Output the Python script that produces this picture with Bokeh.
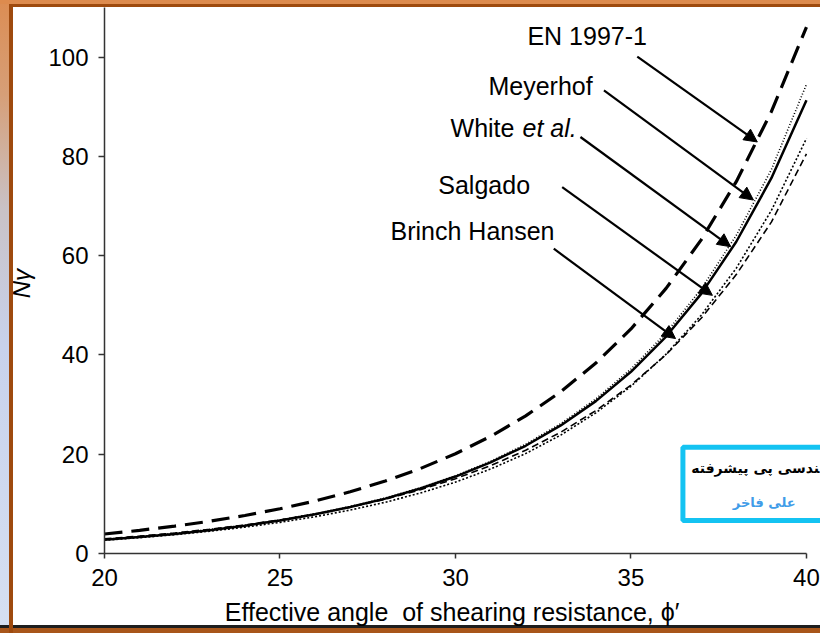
from bokeh.plotting import figure
from bokeh.models import Range1d, Arrow, NormalHead, FixedTicker, Label
from bokeh.core.properties import value
from bokeh.embed import file_html
from bokeh.resources import INLINE

# ---- data ----
phi = [20, 21, 22, 23, 24, 25, 26, 27, 28, 29, 30,
       31, 32, 33, 34, 35, 36, 37, 38, 39, 40]
en_1997 = [3.93, 4.66, 5.51, 6.50, 7.66, 9.01, 10.58, 12.43, 14.59, 17.12, 20.09,
           23.59, 27.72, 32.59, 38.37, 45.23, 53.40, 63.18, 74.90, 89.01, 106.05]
meyerhof = [2.87, 3.42, 4.07, 4.82, 5.71, 6.76, 8.00, 9.46, 11.19, 13.23, 15.67,
            18.56, 22.02, 26.16, 31.14, 37.16, 44.42, 53.27, 64.07, 77.33, 94.5]
white = [2.75, 3.30, 3.95, 4.70, 5.60, 6.65, 7.90, 9.35, 11.05, 13.10, 15.50,
         18.35, 21.70, 25.80, 30.70, 36.60, 43.70, 52.30, 62.80, 75.60, 91.3]
salgado = [2.68, 3.19, 3.79, 4.49, 5.31, 6.27, 7.41, 8.75, 10.32, 12.18, 14.38,
           17.01, 20.13, 23.86, 28.34, 33.68, 40.15, 47.98, 57.47, 69.09, 83.6]
brinch_hansen = [2.95, 3.50, 4.13, 4.88, 5.75, 6.76, 7.94, 9.32, 10.94, 12.84, 15.07,
                 17.69, 20.79, 24.44, 28.78, 33.92, 40.05, 47.39, 56.18, 66.76, 80.5]

x_ticks = [20, 25, 30, 35, 40]
y_ticks = [0, 20, 40, 60, 80, 100]

# annotation labels and arrows (data coordinates)
label_names = ["EN 1997-1", "Meyerhof", "White", "Salgado", "Brinch Hansen"]
label_x = [32.05, 30.94, 29.86, 29.51, 28.15]
label_y = [104.2, 94.2, 85.8, 74.3, 65.0]
arrow_x0 = [35.18, 34.23, 33.56, 33.04, 32.80]
arrow_y0 = [100.1, 93.3, 83.9, 73.8, 61.4]
arrow_x1 = [38.60, 38.49, 37.84, 37.32, 36.27]
arrow_y1 = [82.9, 71.2, 61.8, 52.0, 43.3]

FONT = "Liberation Sans"

p = figure(width=820, height=633, output_backend="svg", toolbar_location=None,
           x_range=Range1d(20, 40.4), y_range=Range1d(0, 111.4),
           min_border_left=104, min_border_right=0, min_border_top=0,
           min_border_bottom=80)
p.xgrid.visible = False
p.ygrid.visible = False
p.outline_line_color = None
p.background_fill_color = None
p.border_fill_color = None

# slide frame around the chart (pure decoration, CSS background of the figure)
p.styles = {"background": (
    "linear-gradient(#dd8b4e,#dd8b4e) 0 0 / 100% 4px no-repeat,"
    "linear-gradient(#9e4a0e,#9e4a0e) 9px 4px / 4px 100% no-repeat,"
    "linear-gradient(#9e4a0e,#9e4a0e) 9px 4px / 100% 3px no-repeat,"
    "linear-gradient(#1e1e1e,#1e1e1e) 0 625px / 100% 3px no-repeat,"
    "linear-gradient(#a8561a,#a8561a) 0 628px / 100% 5px no-repeat,"
    "linear-gradient(to bottom,#dc8d53 0%,#d69f78 15%,#c9c2c6 33%,#c8d2ec 55%,#d6e0f2 100%) 0 0 / 9px 100% no-repeat,"
    "#ffffff")}

p.xaxis.ticker = FixedTicker(ticks=x_ticks)
p.yaxis.ticker = FixedTicker(ticks=y_ticks)
p.xaxis.bounds = (20, 40)
p.yaxis.bounds = (0, 110)
for ax in (p.xaxis[0], p.yaxis[0]):
    ax.axis_line_color = "#333333"
    ax.axis_line_width = 1.5
    ax.major_tick_line_color = "#333333"
    ax.major_tick_line_width = 1.5
    ax.minor_tick_line_color = None
    ax.major_tick_in = 0
    ax.major_label_text_font = FONT
    ax.major_label_text_font_size = "24px"
    ax.major_label_text_color = "black"
    ax.axis_label_text_font = FONT
    ax.axis_label_text_color = "black"

p.xaxis.major_tick_out = 5
p.yaxis.major_tick_out = 6
p.xaxis.major_label_standoff = 10
p.yaxis.major_label_standoff = 10
p.xaxis.axis_label = "Effective angle\u00a0 of shearing resistance, \u03d5\u2032\u00a0\u00a0\u00a0"
p.xaxis.axis_label_text_font_size = "25px"
p.xaxis.axis_label_text_font_style = "normal"
p.xaxis.axis_label_standoff = 9
p.yaxis.axis_label = "N\u03b3\u00a0\u00a0"
p.yaxis.axis_label_text_font_size = "24px"
p.yaxis.axis_label_text_font_style = "italic"
p.yaxis.axis_label_standoff = 10

# watermark box of the slide
p.quad(left=[36.48], right=[41.5], top=[21.4], bottom=[6.65],
       fill_color="white", line_color="#14c3f2", line_width=5)
p.text(x=[40.37], y=[17.3],
       text=["\u200d\u0646\u062f\u0633\u06cc \u067e\u06cc \u067e\u06cc\u0634\u0631\u0641\u062a\u0647"],
       text_font=value("DejaVu Sans"), text_font_size=value("14px"),
       text_font_style="bold", text_color="black",
       text_align="right", text_baseline="middle")
p.text(x=[39.69], y=[10.3], text=["\u0639\u0644\u06cc \u0641\u0627\u062e\u0631"],
       text_font=value("DejaVu Sans"), text_font_size=value("13px"),
       text_font_style="bold", text_color="#3f9ce8",
       text_align="right", text_baseline="middle")

# curves
p.line(phi, brinch_hansen, color="black", line_width=1.6, line_dash="7 4")
p.line(phi, salgado, color="black", line_width=1.6, line_dash="2 2")
p.line(phi, meyerhof, color="black", line_width=1.6, line_dash="1 2")
p.line(phi, white, color="black", line_width=2.5)
p.line(phi, en_1997, color="black", line_width=3.2, line_dash="18 9")

# arrows
for i in range(len(label_names)):
    p.add_layout(Arrow(end=NormalHead(size=13, fill_color="black", line_color="black"),
                       x_start=arrow_x0[i], y_start=arrow_y0[i],
                       x_end=arrow_x1[i], y_end=arrow_y1[i],
                       line_color="black", line_width=2.2))

# labels
for i, name in enumerate(label_names):
    p.add_layout(Label(x=label_x[i], y=label_y[i], text=name,
                       text_font=FONT, text_font_size="25px", text_color="black",
                       text_align="left", text_baseline="middle"))
# italic "et al."
p.add_layout(Label(x=label_x[2] + 2.05, y=label_y[2], text="et al.",
                   text_font=FONT, text_font_size="25px", text_font_style="italic",
                   text_color="black", text_align="left", text_baseline="middle"))

open("out.html", "w").write(file_html(p, INLINE))
